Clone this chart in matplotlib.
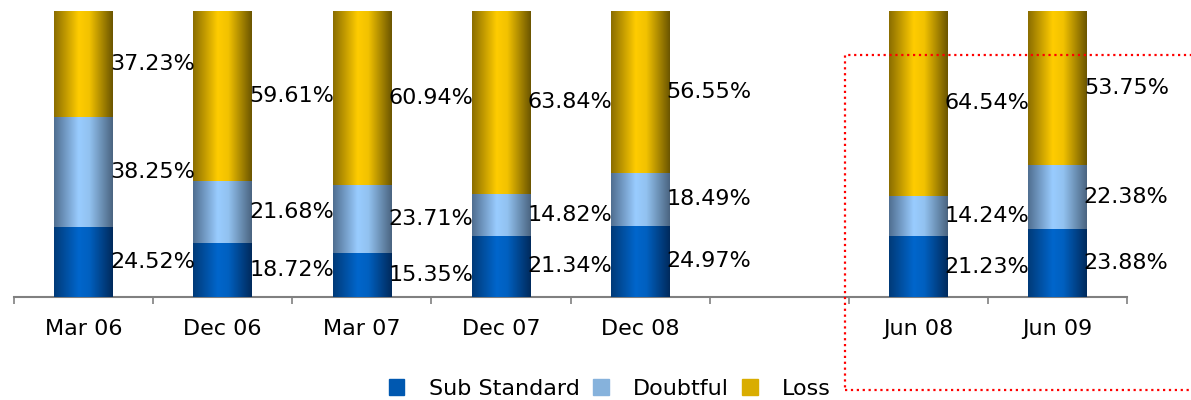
import numpy as np
import matplotlib.pyplot as plt
from matplotlib.colors import LinearSegmentedColormap
from matplotlib.patches import Rectangle

plt.rcParams['font.family'] = ['DejaVu Sans']

# data (percent of NPA), blank slot separates the two groups
categories = ['Mar 06', 'Dec 06', 'Mar 07', 'Dec 07', 'Dec 08', '', 'Jun 08', 'Jun 09']
sub_standard = [24.52, 18.72, 15.35, 21.34, 24.97, np.nan, 21.23, 23.88]
doubtful = [38.25, 21.68, 23.71, 14.82, 18.49, np.nan, 14.24, 22.38]
loss = [37.23, 59.61, 60.94, 63.84, 56.55, np.nan, 64.54, 53.75]
series_names = ['Sub Standard', 'Doubtful', 'Loss']

# cylinder-like shading: edge -> highlight -> dark edge
shades = {
    'Sub Standard': ['#003a78', '#0066cc', '#0060c0', '#002a5c'],
    'Doubtful': ['#4f6e90', '#99ccff', '#92c2f0', '#4a6480'],
    'Loss': ['#8a6d00', '#ffcc00', '#f2c200', '#6b5500'],
}
mid_colors = {'Sub Standard': '#0058b0', 'Doubtful': '#86b2dc', 'Loss': '#d9ad00'}

fig = plt.figure(figsize=(11.91, 4.0), dpi=100)
ax = fig.add_axes([14 / 1191, 103 / 400, (1127 - 14) / 1191, (297 - 11) / 400])

x = np.arange(len(categories))
width = 0.42
grad = np.linspace(0, 1, 256).reshape(1, -1)
bottom = np.zeros(len(categories))
for name, vals in zip(series_names, [sub_standard, doubtful, loss]):
    vals = np.array(vals) / 100.0
    cmap = LinearSegmentedColormap.from_list(name, list(zip([0, 0.42, 0.6, 1], shades[name])))
    bars = ax.bar(x, vals, width, bottom=bottom, color=mid_colors[name], linewidth=0, zorder=2)
    for rect, v, b, xi in zip(bars, vals, bottom, x):
        if np.isnan(v):
            continue
        ax.imshow(grad, extent=[rect.get_x(), rect.get_x() + rect.get_width(), b, b + v],
                  aspect='auto', cmap=cmap, clip_path=rect, zorder=3, interpolation='bilinear')
        ax.text(xi + width / 2 - 0.02, b + v / 2, f'{v * 100:.2f}%', ha='left', va='center',
                fontsize=16, color='black', zorder=4)
    bottom = bottom + np.nan_to_num(vals)

ax.set_xlim(-0.5, len(categories) - 0.5)
ax.set_ylim(0, 1.0)
ax.set_xticks(x)
ax.set_xticklabels(categories, fontsize=16)
ax.set_xticks(np.arange(len(categories) + 1) - 0.5, minor=True)
ax.tick_params(axis='x', which='major', length=0, pad=16)
ax.tick_params(axis='x', which='minor', length=5, color='#808080', width=1.2)
ax.set_yticks([])
for s in ['top', 'left', 'right']:
    ax.spines[s].set_visible(False)
ax.spines['bottom'].set_color('#808080')
ax.spines['bottom'].set_linewidth(1.5)

handles = [Rectangle((0, 0), 1, 1, color=mid_colors[n]) for n in series_names]
fig.legend(handles, series_names, loc='center', bbox_to_anchor=(610 / 1191, 11 / 400), ncol=3,
           frameon=False, fontsize=16, handlelength=0.7, handleheight=0.7,
           handletextpad=1.1, columnspacing=0.6)

# red dotted highlight box
fig.patches.append(Rectangle((845 / 1191, 10 / 400), 0.5, (390 - 55) / 400, transform=fig.transFigure,
                             fill=False, edgecolor='red', linestyle=':', linewidth=1.6, zorder=10))

fig.savefig('out.png', dpi=100)
